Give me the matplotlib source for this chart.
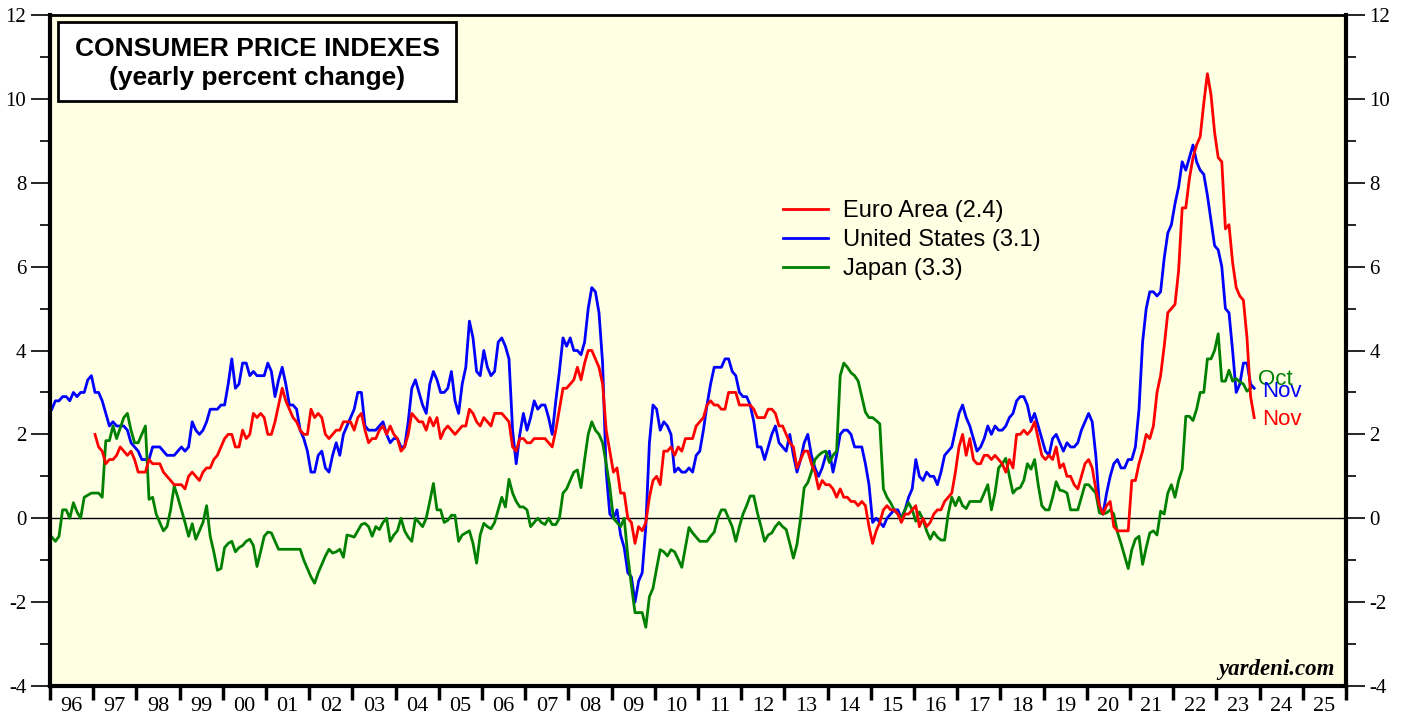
import matplotlib
matplotlib.use("Agg")
import matplotlib.pyplot as plt
import numpy as np
from matplotlib.patches import Rectangle

# monthly yearly % change, Euro Area from Jan 1997, US from Jan 1996 (to Nov 2023), Japan from Jan 1996 (to Oct 2023)
euro_cpi = [
    2.0, 1.7, 1.6, 1.3, 1.4, 1.4, 1.5, 1.7, 1.6, 1.5, 1.6, 1.4,
    1.1, 1.1, 1.1, 1.4, 1.3, 1.3, 1.3, 1.1, 1.0, 0.9, 0.8, 0.8,
    0.8, 0.7, 1.0, 1.1, 1.0, 0.9, 1.1, 1.2, 1.2, 1.4, 1.5, 1.7,
    1.9, 2.0, 2.0, 1.7, 1.7, 2.1, 1.9, 2.0, 2.5, 2.4, 2.5, 2.4,
    2.0, 2.0, 2.3, 2.7, 3.1, 2.8, 2.6, 2.4, 2.3, 2.1, 2.0, 2.0,
    2.6, 2.4, 2.5, 2.4, 2.0, 1.9, 2.0, 2.1, 2.1, 2.3, 2.3, 2.3,
    2.1, 2.4, 2.5, 2.1, 1.8, 1.9, 1.9, 2.1, 2.2, 2.0, 2.2, 2.0,
    1.9, 1.6, 1.7, 2.0, 2.5, 2.4, 2.3, 2.3, 2.1, 2.4, 2.2, 2.4,
    1.9, 2.1, 2.2, 2.1, 2.0, 2.1, 2.2, 2.2, 2.6, 2.5, 2.3, 2.2,
    2.4, 2.3, 2.2, 2.5, 2.5, 2.5, 2.4, 2.3, 1.7, 1.6, 1.9, 1.9,
    1.8, 1.8, 1.9, 1.9, 1.9, 1.9, 1.8, 1.7, 2.1, 2.6, 3.1, 3.1,
    3.2, 3.3, 3.6, 3.3, 3.7, 4.0, 4.0, 3.8, 3.6, 3.2, 2.1, 1.6,
    1.1, 1.2, 0.6, 0.6, 0.0, -0.1, -0.6, -0.2, -0.3, -0.1, 0.5, 0.9,
    1.0, 0.8, 1.6, 1.6, 1.7, 1.5, 1.7, 1.6, 1.9, 1.9, 1.9, 2.2,
    2.3, 2.4, 2.7, 2.8, 2.7, 2.7, 2.6, 2.6, 3.0, 3.0, 3.0, 2.7,
    2.7, 2.7, 2.7, 2.6, 2.4, 2.4, 2.4, 2.6, 2.6, 2.5, 2.2, 2.2,
    2.0, 1.8, 1.7, 1.2, 1.4, 1.6, 1.6, 1.3, 1.1, 0.7, 0.9, 0.8,
    0.8, 0.7, 0.5, 0.7, 0.5, 0.5, 0.4, 0.4, 0.3, 0.4, 0.3, -0.2,
    -0.6, -0.3, -0.1, 0.2, 0.3, 0.2, 0.2, 0.1, -0.1, 0.1, 0.1, 0.2,
    0.3, -0.2, 0.0, -0.2, -0.1, 0.1, 0.2, 0.2, 0.4, 0.5, 0.6, 1.1,
    1.7, 2.0, 1.5, 1.9, 1.4, 1.3, 1.3, 1.5, 1.5, 1.4, 1.5, 1.4,
    1.3, 1.1, 1.4, 1.2, 2.0, 2.0, 2.1, 2.0, 2.1, 2.3, 1.9, 1.5,
    1.4, 1.5, 1.4, 1.7, 1.2, 1.3, 1.0, 1.0, 0.8, 0.7, 1.0, 1.3,
    1.4, 1.2, 0.7, 0.3, 0.1, 0.3, 0.4, -0.2, -0.3, -0.3, -0.3, -0.3,
    0.9, 0.9, 1.3, 1.6, 2.0, 1.9, 2.2, 3.0, 3.4, 4.1, 4.9, 5.0,
    5.1, 5.9, 7.4, 7.4, 8.1, 8.6, 8.9, 9.1, 9.9, 10.6, 10.1, 9.2,
    8.6, 8.5, 6.9, 7.0, 6.1, 5.5, 5.3, 5.2, 4.3, 2.9, 2.4,
]

us_cpi = [
    2.6, 2.8, 2.8, 2.9, 2.9, 2.8, 3.0, 2.9, 3.0, 3.0, 3.3, 3.4,
    3.0, 3.0, 2.8, 2.5, 2.2, 2.3, 2.2, 2.2, 2.2, 2.1, 1.8, 1.7,
    1.6, 1.4, 1.4, 1.4, 1.7, 1.7, 1.7, 1.6, 1.5, 1.5, 1.5, 1.6,
    1.7, 1.6, 1.7, 2.3, 2.1, 2.0, 2.1, 2.3, 2.6, 2.6, 2.6, 2.7,
    2.7, 3.2, 3.8, 3.1, 3.2, 3.7, 3.7, 3.4, 3.5, 3.4, 3.4, 3.4,
    3.7, 3.5, 2.9, 3.3, 3.6, 3.2, 2.7, 2.7, 2.6, 2.1, 1.9, 1.6,
    1.1, 1.1, 1.5, 1.6, 1.2, 1.1, 1.5, 1.8, 1.5, 2.0, 2.2, 2.4,
    2.6, 3.0, 3.0, 2.2, 2.1, 2.1, 2.1, 2.2, 2.3, 2.0, 1.8, 1.9,
    1.9, 1.7, 1.7, 2.3, 3.1, 3.3, 3.0, 2.7, 2.5, 3.2, 3.5, 3.3,
    3.0, 3.0, 3.1, 3.5, 2.8, 2.5, 3.2, 3.6, 4.7, 4.3, 3.5, 3.4,
    4.0, 3.6, 3.4, 3.5, 4.2, 4.3, 4.1, 3.8, 2.1, 1.3, 2.0, 2.5,
    2.1, 2.4, 2.8, 2.6, 2.7, 2.7, 2.4, 2.0, 2.8, 3.5, 4.3, 4.1,
    4.3, 4.0, 4.0, 3.9, 4.2, 5.0, 5.5, 5.4, 4.9, 3.7, 1.1, 0.1,
    0.0, 0.2, -0.4, -0.7, -1.3, -1.4, -2.0, -1.5, -1.3, -0.2, 1.8, 2.7,
    2.6, 2.1, 2.3, 2.2, 2.0, 1.1, 1.2, 1.1, 1.1, 1.2, 1.1, 1.5,
    1.6, 2.1, 2.7, 3.2, 3.6, 3.6, 3.6, 3.8, 3.8, 3.5, 3.4, 3.0,
    2.9, 2.9, 2.7, 2.3, 1.7, 1.7, 1.4, 1.7, 2.0, 2.2, 1.8, 1.7,
    1.6, 2.0, 1.5, 1.1, 1.4, 1.8, 2.0, 1.5, 1.2, 1.0, 1.2, 1.5,
    1.6, 1.1, 1.5, 2.0, 2.1, 2.1, 2.0, 1.7, 1.7, 1.7, 1.3, 0.8,
    -0.1, 0.0, -0.1, -0.2, 0.0, 0.1, 0.2, 0.2, 0.0, 0.2, 0.5, 0.7,
    1.4, 1.0, 0.9, 1.1, 1.0, 1.0, 0.8, 1.1, 1.5, 1.6, 1.7, 2.1,
    2.5, 2.7, 2.4, 2.2, 1.9, 1.6, 1.7, 1.9, 2.2, 2.0, 2.2, 2.1,
    2.1, 2.2, 2.4, 2.5, 2.8, 2.9, 2.9, 2.7, 2.3, 2.5, 2.2, 1.9,
    1.6, 1.5, 1.9, 2.0, 1.8, 1.6, 1.8, 1.7, 1.7, 1.8, 2.1, 2.3,
    2.5, 2.3, 1.5, 0.3, 0.1, 0.6, 1.0, 1.3, 1.4, 1.2, 1.2, 1.4,
    1.4, 1.7, 2.6, 4.2, 5.0, 5.4, 5.4, 5.3, 5.4, 6.2, 6.8, 7.0,
    7.5, 7.9, 8.5, 8.3, 8.6, 8.9, 8.5, 8.3, 8.2, 7.7, 7.1, 6.5,
    6.4, 6.0, 5.0, 4.9, 4.0, 3.0, 3.2, 3.7, 3.7, 3.2, 3.1,
]

japan_cpi = [
    -0.45, -0.55, -0.43, 0.2, 0.2, 0.0, 0.37, 0.15, 0.0, 0.5, 0.55, 0.6,
    0.6, 0.6, 0.5, 1.85, 1.85, 2.2, 1.9, 2.15, 2.4, 2.5, 2.1, 1.8,
    1.8, 2.0, 2.2, 0.45, 0.5, 0.1, -0.1, -0.3, -0.2, 0.2, 0.77, 0.5,
    0.2, -0.1, -0.43, -0.13, -0.5, -0.3, -0.1, 0.3, -0.43, -0.8, -1.24, -1.2,
    -0.7, -0.6, -0.55, -0.8, -0.7, -0.65, -0.55, -0.5, -0.65, -1.15, -0.8, -0.43,
    -0.33, -0.35, -0.55, -0.74, -0.74, -0.74, -0.74, -0.74, -0.74, -0.74, -1.0, -1.2,
    -1.4, -1.55, -1.3, -1.1, -0.9, -0.74, -0.83, -0.8, -0.74, -0.93, -0.4, -0.42,
    -0.45, -0.3, -0.15, -0.12, -0.2, -0.43, -0.2, -0.27, -0.1, 0.0, -0.55, -0.4,
    -0.3, 0.0, -0.3, -0.45, -0.55, 0.0, -0.1, -0.2, 0.0, 0.4, 0.83, 0.2,
    0.2, -0.1, -0.05, 0.07, 0.07, -0.55, -0.4, -0.35, -0.3, -0.6, -1.07, -0.4,
    -0.12, -0.2, -0.25, -0.1, 0.2, 0.5, 0.27, 0.93, 0.6, 0.4, 0.27, 0.27,
    0.2, -0.2, -0.1, 0.0, -0.1, -0.15, 0.0, -0.15, -0.15, 0.0, 0.6, 0.7,
    0.9, 1.1, 1.15, 0.73, 1.4, 2.0, 2.3, 2.1, 2.0, 1.8, 1.3, 0.75,
    0.0, -0.1, -0.2, 0.0, -0.9, -1.6, -2.25, -2.25, -2.25, -2.6, -1.87, -1.67,
    -1.2, -0.75, -0.8, -0.9, -0.75, -0.8, -0.98, -1.17, -0.7, -0.22, -0.35, -0.45,
    -0.55, -0.55, -0.55, -0.43, -0.33, 0.0, 0.2, 0.2, 0.0, -0.2, -0.55, -0.2,
    0.1, 0.3, 0.53, 0.53, 0.13, -0.2, -0.55, -0.4, -0.35, -0.2, -0.1, -0.2,
    -0.27, -0.6, -0.95, -0.62, 0.0, 0.73, 0.85, 1.1, 1.4, 1.5, 1.57, 1.6,
    1.33, 1.5, 1.6, 3.4, 3.7, 3.6, 3.47, 3.4, 3.27, 2.9, 2.53, 2.4,
    2.4, 2.33, 2.25, 0.7, 0.5, 0.37, 0.2, 0.1, 0.0, 0.2, 0.37, 0.2,
    -0.07, 0.15, -0.03, -0.3, -0.5, -0.33, -0.45, -0.52, -0.52, 0.1, 0.5, 0.3,
    0.5, 0.3, 0.23, 0.4, 0.4, 0.4, 0.4, 0.6, 0.8, 0.2, 0.6, 1.2,
    1.3, 1.43, 1.0, 0.6, 0.7, 0.73, 0.9, 1.3, 1.17, 1.4, 0.8, 0.3,
    0.2, 0.2, 0.5, 0.87, 0.67, 0.65, 0.6, 0.2, 0.2, 0.2, 0.5, 0.8,
    0.8, 0.7, 0.6, 0.13, 0.1, 0.13, 0.2, 0.1, -0.33, -0.6, -0.9, -1.2,
    -0.75, -0.5, -0.43, -1.1, -0.7, -0.35, -0.3, -0.4, 0.17, 0.1, 0.6, 0.8,
    0.5, 0.9, 1.17, 2.43, 2.43, 2.33, 2.6, 3.0, 3.0, 3.8, 3.8, 4.0,
    4.4, 3.27, 3.27, 3.53, 3.27, 3.33, 3.25, 3.2, 3.03, 3.1,
]

years = list(range(1996, 2026))
year_labels = [f"{y % 100:02d}" for y in years]
legend_labels = ["Euro Area (2.4)", "United States (3.1)", "Japan (3.3)"]


def month_axis(start_year, n):
    # mid-month positions in decimal years
    return start_year + (np.arange(n) + 0.5) / 12.0


plt.rcParams['font.family'] = ['Liberation Sans', 'DejaVu Sans']

fig = plt.figure(figsize=(14.06, 7.21), dpi=100)
ax = fig.add_axes([50 / 1406, 35 / 721, 1296 / 1406, 671 / 721])
ax.set_facecolor('#ffffe4')

ax.axhline(0, color='black', lw=1.0, zorder=1)

ax.plot(month_axis(1997, len(euro_cpi)), euro_cpi, color='#ff0000', lw=2.0, label=legend_labels[0], zorder=3)
ax.plot(month_axis(1996, len(us_cpi)), us_cpi, color='#0000ff', lw=2.0, label=legend_labels[1], zorder=2)
ax.plot(month_axis(1996, len(japan_cpi)), japan_cpi, color='#008000', lw=2.0, label=legend_labels[2], zorder=2)

ax.set_xlim(1996, 2026)
ax.set_ylim(-4, 12)

# x axis: year boundaries as ticks, labels centred in each year
ax.set_xticks(years + [2026])
ax.set_xticklabels([])
ax.set_xticks([y + 0.5 for y in years], minor=True)
ax.set_xticklabels(year_labels, minor=True, family='Liberation Serif', fontsize=16)
ax.tick_params(axis='x', which='major', direction='out', length=10, width=2.5, color='black')
ax.tick_params(axis='x', which='minor', length=0, pad=8)

ax.set_yticks(np.arange(-4, 13, 2))
ax.set_yticks(np.arange(-4, 13, 1), minor=True)
ax.tick_params(axis='y', which='major', direction='out', length=14, width=1.2,
               left=True, right=True, labelleft=True, labelright=True,
               labelsize=15, pad=3)
ax.tick_params(axis='y', which='minor', direction='out', length=7, width=1.2, left=True, right=True)
ax.yaxis.set_major_formatter(plt.FuncFormatter(lambda v, p: f"{int(v)}"))
for lab in ax.get_yticklabels(which='major'):
    lab.set_family('Liberation Serif')

for side in ['left', 'right', 'bottom']:
    ax.spines[side].set_linewidth(3)
ax.spines['top'].set_linewidth(2)

# title box
ax.add_patch(Rectangle((0.0062, 0.872), 0.307, 0.1176, transform=ax.transAxes,
                       facecolor='white', edgecolor='black', lw=2, zorder=5))
ax.text(0.1597, 0.949, "CONSUMER PRICE INDEXES", transform=ax.transAxes, ha='center', va='center',
        fontsize=19, fontweight='bold', zorder=6)
ax.text(0.1597, 0.906, "(yearly percent change)", transform=ax.transAxes, ha='center', va='center',
        fontsize=19, fontweight='bold', zorder=6)

ax.legend(loc='upper left', bbox_to_anchor=(0.5656, 0.7246), frameon=False, fontsize=17,
          handlelength=1.9, handletextpad=0.63, labelspacing=0.3, borderaxespad=0, borderpad=0)

# end-of-series labels
ax.text(2023.96, 3.32, "Oct", color='#008000', fontsize=16, va='center', ha='left')
ax.text(2024.06, 3.02, "Nov", color='#0000ff', fontsize=16, va='center', ha='left')
ax.text(2024.06, 2.36, "Nov", color='#ff0000', fontsize=16, va='center', ha='left')

ax.text(0.9915, 0.024, "yardeni.com", transform=ax.transAxes, ha='right', va='center',
        fontsize=16.5, family='Liberation Serif', fontweight='bold', fontstyle='italic')

fig.savefig('out.png', dpi=100, facecolor='white')
